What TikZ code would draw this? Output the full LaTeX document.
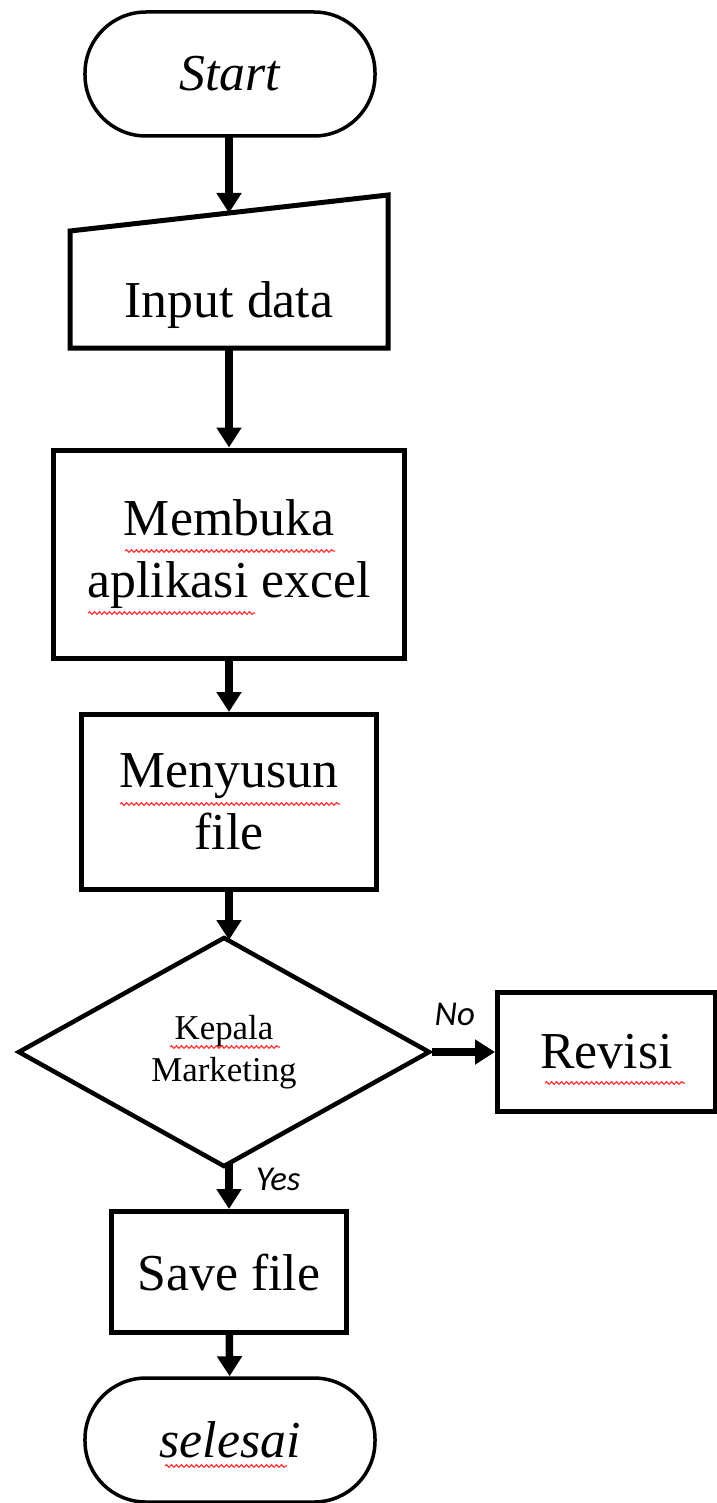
\documentclass[tikz,border=0pt]{standalone}
\usepackage{fontspec}
\setmainfont{Liberation Serif}
\newfontfamily\answerfont{Carlito}
\usetikzlibrary{shapes.geometric, arrows.meta, decorations.pathmorphing}

\tikzset{
	flowline/.style={line width=7.5bp, -{Triangle[length=20bp, width=24bp]}},
	terminal/.style={draw, line width=3.5bp, rounded corners=61bp, minimum width=290bp,
		minimum height=124bp, inner sep=0pt, font=\fontsize{52}{62}\selectfont\itshape},
	process/.style={draw, line width=5bp, inner sep=0pt, align=center,
		font=\fontsize{52}{62}\selectfont},
	decision/.style={draw, diamond, line width=4.5bp, inner sep=0pt, minimum width=412bp,
		minimum height=230bp, align=center, font=\fontsize{35}{42}\selectfont},
	answer/.style={inner sep=0pt, font=\answerfont\itshape\fontsize{35}{40}\selectfont},
	spellmark/.style={draw=red!80, line width=1.2bp, decorate,
		decoration={snake, amplitude=1.3bp, segment length=5bp}}
}

\begin{document}
\begin{tikzpicture}[x=1bp, y=-1bp]
	\useasboundingbox (0, 0) rectangle (717, 1503);

	\node[terminal] (start) at (230, 74) {Start};

	% manual input
	\draw[line width=5bp, line join=miter] (70, 231) -- (388, 195) -- (388, 348) -- (70, 348) -- cycle;
	\node[font=\fontsize{52}{62}\selectfont] (input) at (229, 305) {Input data};
	\coordinate (starttail) at (229, 136);
	\coordinate (inputtop) at (229, 213);
	\coordinate (inputbot) at (229, 348);

	\node[process, minimum width=350bp, minimum height=208bp] (buka) at (229, 554) {Membuka\\aplikasi excel};
	\node[process, minimum width=294bp, minimum height=175bp] (susun) at (229, 802) {Menyusun\\file};
	\node[decision] (kepala) at (224, 1052) {Kepala\\Marketing};
	\coordinate (kepalatop) at (229, 940);
	\coordinate (kepalabot) at (229, 1164);
	\node[process, minimum width=218bp, minimum height=119bp] (revisi) at (606.5, 1052) {Revisi};
	\node[process, minimum width=235bp, minimum height=121bp] (save) at (229, 1272) {Save file};
	\node[terminal] (selesai) at (230, 1440) {selesai};

	\draw[flowline] (starttail) -- (inputtop);
	\draw[flowline] (inputbot) -- (buka);
	\draw[flowline] (buka) -- (susun);
	\draw[flowline] (susun) -- (kepalatop);
	\draw[flowline] (kepala.east) -- (revisi.west)
		node[answer, pos=0.36, anchor=base, yshift=27bp] {No};
	\draw[flowline] (kepalabot) -- (save.north)
		node[answer, pos=0.58, anchor=base west, xshift=23bp] {Yes};
	\draw[flowline] (save) -- (selesai);

	% spell check marks
	\draw[spellmark] (125, 551) -- (335, 551);
	\draw[spellmark] (88, 613) -- (255, 613);
	\draw[spellmark] (120, 804) -- (340, 804);
	\draw[spellmark] (170, 1047) -- (280, 1047);
	\draw[spellmark] (545, 1083) -- (685, 1083);
	\draw[spellmark] (165, 1466) -- (287, 1466);
\end{tikzpicture}
\end{document}
